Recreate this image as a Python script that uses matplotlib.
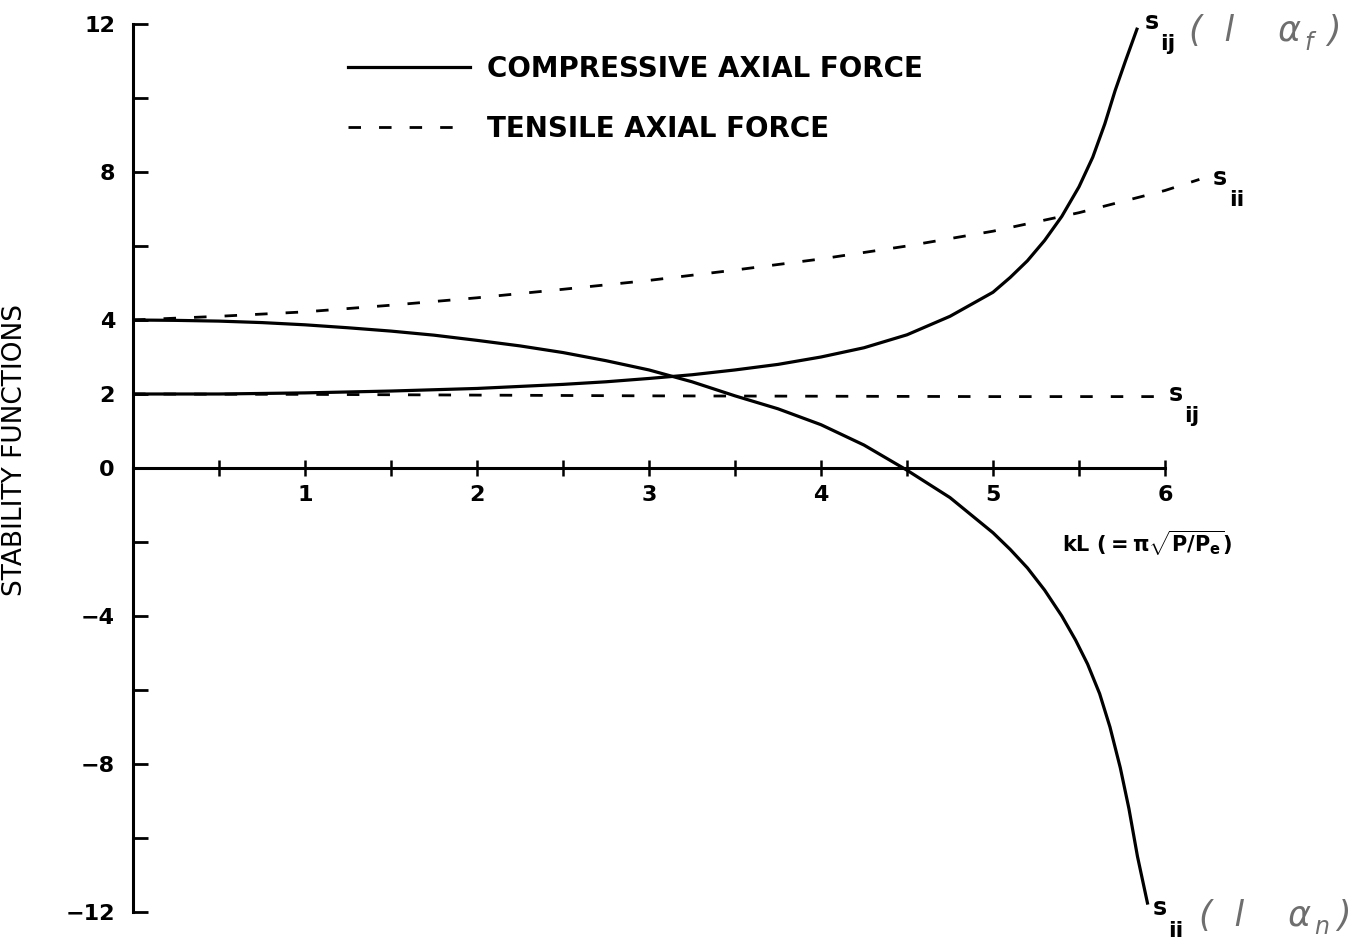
import matplotlib
matplotlib.use("Agg")
import matplotlib.pyplot as plt
from matplotlib.ticker import FixedLocator, FixedFormatter

plt.rcParams["font.family"] = ["DejaVu Sans"]
plt.rcParams["font.weight"] = "bold"
plt.rcParams["mathtext.fontset"] = "custom"
plt.rcParams["mathtext.rm"] = "DejaVu Sans:bold"
plt.rcParams["mathtext.it"] = "DejaVu Sans:bold"
plt.rcParams["mathtext.bf"] = "DejaVu Sans:bold"

# compressive axial force
kl_comp_ii = [0.0, 0.25, 0.5, 0.75, 1.0, 1.25, 1.5, 1.75, 2.0, 2.25, 2.5, 2.75, 3.0, 3.25,
              3.5, 3.75, 4.0, 4.25, 4.5, 4.75, 5.0, 5.1, 5.2, 5.3, 5.4, 5.48, 5.55, 5.62,
              5.68, 5.74, 5.79, 5.84, 5.9]
s_ii_comp = [4.0, 3.99, 3.97, 3.93, 3.87, 3.79, 3.7, 3.59, 3.45, 3.3, 3.12, 2.9, 2.65, 2.33,
             1.95, 1.6, 1.17, 0.62, -0.06, -0.8, -1.75, -2.2, -2.7, -3.3, -4.0, -4.65, -5.3, -6.1,
             -7.0, -8.1, -9.2, -10.5, -11.8]

kl_comp_ij = [0.0, 0.5, 1.0, 1.5, 2.0, 2.5, 2.75, 3.0, 3.25, 3.5, 3.75, 4.0, 4.25, 4.5, 4.75,
              5.0, 5.1, 5.2, 5.3, 5.4, 5.5, 5.58, 5.65, 5.71, 5.77, 5.84]
s_ij_comp = [2.0, 2.0, 2.03, 2.08, 2.15, 2.26, 2.33, 2.42, 2.52, 2.65, 2.8, 3.0, 3.25, 3.6, 4.1,
             4.75, 5.15, 5.6, 6.15, 6.8, 7.6, 8.4, 9.3, 10.2, 11.0, 11.9]

# tensile axial force
kl_tens_ii = [0.0, 0.5, 1.0, 1.5, 2.0, 2.5, 3.0, 3.5, 4.0, 4.5, 5.0, 5.5, 6.0, 6.2]
s_ii_tens = [4.0, 4.1, 4.22, 4.4, 4.6, 4.83, 5.07, 5.35, 5.65, 6.0, 6.4, 6.9, 7.5, 7.8]

kl_tens_ij = [0.0, 1.0, 2.0, 3.0, 4.0, 5.0, 5.95]
s_ij_tens = [2.0, 1.99, 1.97, 1.95, 1.94, 1.93, 1.93]

y_labeled = [-12, -8, -4, 0, 2, 4, 8, 12]
y_minor = [-10, -6, -2, 6, 10]
x_ticks = [0.5, 1, 1.5, 2, 2.5, 3, 3.5, 4, 4.5, 5, 5.5, 6]
x_labels = ["", "1", "", "2", "", "3", "", "4", "", "5", "", "6"]

W, H = 1372, 947
X0, UX = 133, 172.0
Y0, UY = 468, 37.0

fig = plt.figure(figsize=(W / 100, H / 100), dpi=100)
ax = fig.add_axes([X0 / W, 0, 1 - X0 / W, 1])
ax.set_xlim(0, (W - X0) / UX)
ax.set_ylim((Y0 - H) / UY, Y0 / UY)
ax.patch.set_alpha(0)

lw = 2.3
dash = (4.5, 6.5)
ax.plot(kl_comp_ii, s_ii_comp, color="black", lw=lw, solid_capstyle="butt")
ax.plot(kl_comp_ij, s_ij_comp, color="black", lw=lw, solid_capstyle="butt")
ax.plot(kl_tens_ii, s_ii_tens, color="black", lw=2.0, dashes=dash)
ax.plot(kl_tens_ij, s_ij_tens, color="black", lw=2.0, dashes=dash)

# spines: left axis full height, bottom axis along y = 0
for side in ["top", "right"]:
    ax.spines[side].set_visible(False)
ax.spines["left"].set_position(("data", 0))
ax.spines["left"].set_bounds(-12, 12)
ax.spines["bottom"].set_position(("data", 0))
ax.spines["bottom"].set_bounds(0, 6)
ax.spines["left"].set_linewidth(2.2)
ax.spines["bottom"].set_linewidth(2.2)

ax.yaxis.set_major_locator(FixedLocator(y_labeled))
ax.yaxis.set_minor_locator(FixedLocator(y_minor))
ax.yaxis.set_major_formatter(FixedFormatter([str(v) if v >= 0 else "\u2212" + str(-v) for v in y_labeled]))
ax.tick_params(axis="y", which="both", direction="in", length=11, width=2, pad=13, labelsize=16)
ax.xaxis.set_major_locator(FixedLocator(x_ticks))
ax.xaxis.set_major_formatter(FixedFormatter(x_labels))
ax.tick_params(axis="x", direction="inout", length=12, width=1.8, pad=6, labelsize=16)

ax.set_ylabel("STABILITY FUNCTIONS", fontsize=19, fontweight="normal")
ax.yaxis.set_label_coords(-(X0 - 28) / (W - X0), (H - 450) / H)

ax.text(5.4, -2.05, r"kL ($=\pi\sqrt{P/P_e}$)", fontsize=15, va="center")

# curve end labels
def sub_label(x, y, sub):
    ax.text(x, y, "s", fontsize=17, ha="left", va="center")
    ax.text(x + 0.09, y - 0.6, sub, fontsize=16, ha="left", va="center")

sub_label(5.88, 12.05, "ij")
sub_label(6.28, 7.85, "ii")
sub_label(6.02, 2.0, "ij")
sub_label(5.93, -11.9, "ii")

# handwritten notes
def note(x, y, sub):
    style = dict(color="#6e6e6e", fontstyle="italic", fontweight="normal", va="center")
    ax.text(x, y, "(  l    \u03b1", fontsize=25, **style)
    ax.text(x + 0.67, y - 0.3, sub, fontsize=17, **style)
    ax.text(x + 0.8, y, ")", fontsize=25, **style)

note(6.14, 11.8, "f")
note(6.2, -12.1, "n")

# legend
ax.plot([], [], color="black", lw=lw, label="COMPRESSIVE AXIAL FORCE")
ax.plot([], [], color="black", lw=2.0, dashes=dash, label="TENSILE AXIAL FORCE")
ax.legend(loc="upper left", bbox_to_anchor=(348 / W, 1 - 55 / H), bbox_transform=fig.transFigure,
          frameon=False, fontsize=20, handlelength=4.4, handletextpad=0.6,
          labelspacing=1.15, borderpad=0, borderaxespad=0)

fig.savefig("out.png", dpi=100)
